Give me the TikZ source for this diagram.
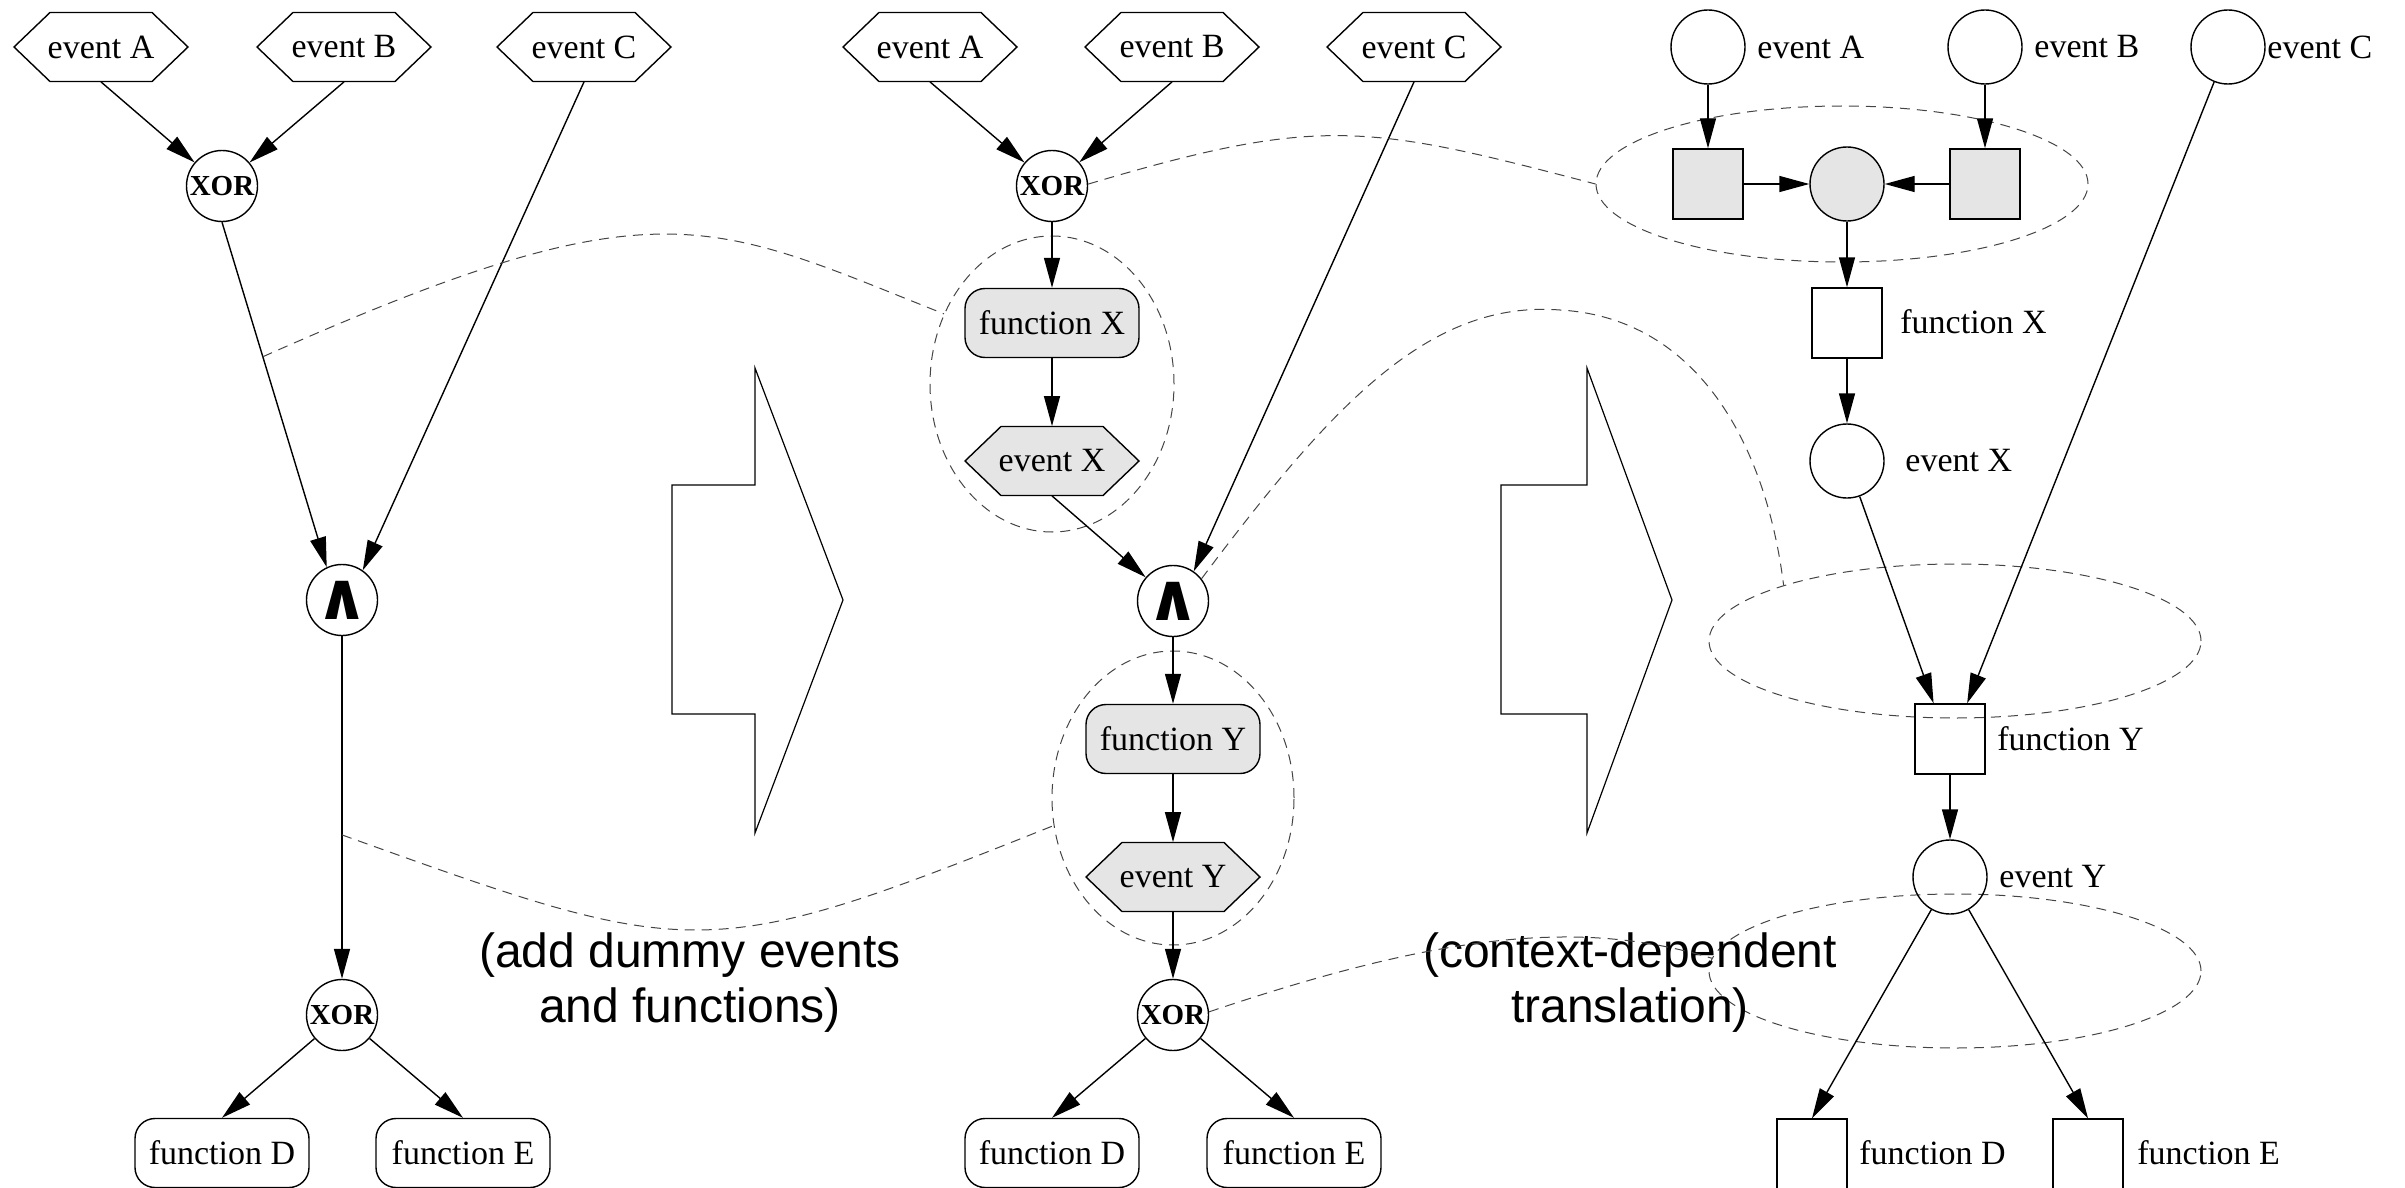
\documentclass[tikz,border=0pt]{standalone}
\usepackage{fontspec}
\setmainfont{Liberation Serif}
\newfontfamily\helv{Liberation Sans}
\newfontfamily\djv{DejaVu Sans}
\usetikzlibrary{arrows.meta,shapes.geometric,calc}
\definecolor{gfill}{HTML}{E5E5E5}
\definecolor{dashc}{HTML}{444444}
\newcommand\hexev[5]{%
  \filldraw[fill=#4, line width=0.7pt] (#2-87,#3) -- (#2-51,#3-34.5) -- (#2+51,#3-34.5) -- (#2+87,#3) -- (#2+51,#3+34.5) -- (#2-51,#3+34.5) -- cycle;
  \node[evtext] (#1) at (#2,#3) {#5};}
\newcommand\andsym{{\djv\bfseries\fontsize{33}{33}\selectfont ∧}}
\begin{document}
\begin{tikzpicture}[x=0.5pt,y=-0.5pt,
  font=\fontsize{17}{20}\selectfont,
  evtext/.style={rectangle, minimum width=87pt, minimum height=34.5pt, inner sep=0pt},
  gate/.style={circle, draw, line width=0.7pt, fill=white, minimum size=35.5pt, inner sep=0pt},
  xorg/.style={gate, font=\bfseries\fontsize{14.5}{17}\selectfont},
  fbox/.style={rectangle, rounded corners=10pt, draw, line width=0.7pt, minimum width=87pt, minimum height=34.5pt, inner sep=0pt},
  sq/.style={rectangle, draw, line width=0.7pt, minimum size=35pt, inner sep=0pt},
  pl/.style={circle, draw, line width=0.7pt, minimum size=37pt, inner sep=0pt},
  lab/.style={anchor=west, inner sep=0pt},
  grp/.style={ellipse, draw=dashc, line width=0.5pt, dash pattern=on 5pt off 3.5pt, inner sep=0pt},
  dcurve/.style={draw=dashc, line width=0.5pt, dash pattern=on 5pt off 3.5pt},
  arr/.style={line width=0.7pt, -{Triangle[length=15pt,width=8pt]}},
  bigtxt/.style={font=\helv\fontsize{24}{27.5}\selectfont, align=center, inner sep=0pt},
  blockarrow/.style={line width=0.6pt}
]
\path[use as bounding box] (0,0) rectangle (2405,1188);
\clip (0,0) rectangle (2405,1188);

% ---------------- left column ----------------
\hexev{evA1}{101}{47}{white}{event A}
\hexev{evB1}{344}{47}{white}{event B}
\hexev{evC1}{584}{47}{white}{event C}
\node[xorg] (xor1) at (222,186) {XOR};
\node[gate] (and1) at (342,600) {\andsym};
\node[xorg] (xor2) at (342,1015) {XOR};
\node[fbox] (fD1) at (222,1153) {function D};
\node[fbox] (fE1) at (463,1153) {function E};

\draw[arr] (evA1.south) -- (xor1);
\draw[arr] (evB1.south) -- (xor1);
\draw[arr] (xor1.south) -- (and1.115);
\draw[arr] (evC1.south) -- (and1.55);
\draw[arr] (and1) -- (xor2);
\draw[arr] (xor2) -- (fD1.north);
\draw[arr] (xor2) -- (fE1.north);

% block arrows
\draw[blockarrow] (672,485) -- (755,485) -- (755,368) -- (843,600) -- (755,833) -- (755,714) -- (672,714) -- cycle;
\draw[blockarrow] (1501,485) -- (1587,485) -- (1587,368) -- (1672,600) -- (1587,833) -- (1587,714) -- (1501,714) -- cycle;

% ---------------- middle column ----------------
\node[grp, minimum width=122pt, minimum height=148pt] (elX) at (1052,384) {};
\node[grp, minimum width=121pt, minimum height=147pt] (elY) at (1173,798) {};
\hexev{evA2}{930}{47}{white}{event A}
\hexev{evB2}{1172}{47}{white}{event B}
\hexev{evC2}{1414}{47}{white}{event C}
\node[xorg] (xor3) at (1052,186) {XOR};
\node[fbox, fill=gfill] (fX2) at (1052,323) {function X};
\hexev{evX2}{1052}{461}{gfill}{event X}
\node[gate] (and2) at (1173,601) {\andsym};
\node[fbox, fill=gfill] (fY2) at (1173,739) {function Y};
\hexev{evY2}{1173}{877}{gfill}{event Y}
\node[xorg] (xor4) at (1173,1015) {XOR};
\node[fbox] (fD2) at (1052,1153) {function D};
\node[fbox] (fE2) at (1294,1153) {function E};

\draw[arr] (evA2.south) -- (xor3);
\draw[arr] (evB2.south) -- (xor3);
\draw[arr] (xor3) -- (fX2);
\draw[arr] (fX2) -- (evX2);
\draw[arr] (evX2.south) -- (and2);
\draw[arr] (evC2.south) -- (and2.55);
\draw[arr] (and2) -- (fY2);
\draw[arr] (fY2) -- (evY2);
\draw[arr] (evY2.south) -- (xor4);
\draw[arr] (xor4) -- (fD2.north);
\draw[arr] (xor4) -- (fE2.north);

% ---------------- right column ----------------
\node[grp, minimum width=246pt, minimum height=78pt] (ell1) at (1842,184) {};
\node[grp, minimum width=246pt, minimum height=77pt] (ell2) at (1955,641) {};
\node[grp, minimum width=246pt, minimum height=77pt] (ell3) at (1955,971) {};

\node[pl] (pA) at (1708,47) {};
\node[pl] (pB) at (1985,47) {};
\node[pl] (pC) at (2228,47) {};
\node[lab] (lA) at (1757,47) {event A};
\node[lab] (lB) at (2034,47) {event B};
\node[lab] (lC) at (2267,47) {event C};
\node[sq, fill=gfill] (tA) at (1708,184) {};
\node[pl, fill=gfill] (p1) at (1847,184) {};
\node[sq, fill=gfill] (tB) at (1985,184) {};
\node[sq] (fX3) at (1847,323) {};
\node[lab] (lfX) at (1900,322) {function X};
\node[pl] (evX3) at (1847,461) {};
\node[lab] (leX) at (1905,461) {event X};
\node[sq] (fY3) at (1950,739) {};
\node[lab] (lfY) at (1997,739) {function Y};
\node[pl] (evY3) at (1950,877) {};
\node[lab] (leY) at (1999,877) {event Y};
\node[sq] (fD3) at (1812,1154) {};
\node[lab] (lfD) at (1859,1153) {function D};
\node[sq] (fE3) at (2088,1154) {};
\node[lab] (lfE) at (2137,1153) {function E};

\coordinate (fYin1) at ($(fY3.north west)!0.27!(fY3.north east)$);
\coordinate (fYin2) at ($(fY3.north west)!0.74!(fY3.north east)$);

\draw[arr] (pA) -- (tA);
\draw[arr] (pB) -- (tB);
\draw[arr] (tA) -- (p1);
\draw[arr] (tB) -- (p1);
\draw[arr] (p1) -- (fX3);
\draw[arr] (fX3) -- (evX3);
\draw[arr] (evX3) -- (fYin1);
\draw[arr] (pC) -- (fYin2);
\draw[arr] (fY3) -- (evY3);
\draw[arr] (evY3) -- (fD3.north);
\draw[arr] (evY3) -- (fE3.north);

% ---------------- texts ----------------
\node[bigtxt] (t1) at (690,983) {(add dummy events\\and functions)};
\node[bigtxt] (t2) at (1630,983) {(context-dependent\\translation)};

% ---------------- dashed correspondence curves ----------------
\coordinate (c1s) at ($(xor1.south)!0.39!(and1.115)$);
\draw[dcurve] (c1s) .. controls +(396,-176) and +(-237,-94) .. (elX.147);
\coordinate (c2s) at ($(and1.south)!0.58!(xor2.north)$);
\draw[dcurve] (c2s) .. controls +(351,126) and +(-350,140) .. (elY.193);
\draw[dcurve] (xor3.3) .. controls +(232,-69) and +(-229,-60) .. (ell1.west);
\coordinate (c4m) at (1560,310);
\draw[dcurve] (and2.38) .. controls +(132,-176) and +(-130,-10) .. (c4m) .. controls +(140,8) and +(-17,-137) .. (ell2.162);
\draw[dcurve] (xor4.5) .. controls +(231,-78) and +(-132,-40) .. (ell3.177);
\end{tikzpicture}
\end{document}
